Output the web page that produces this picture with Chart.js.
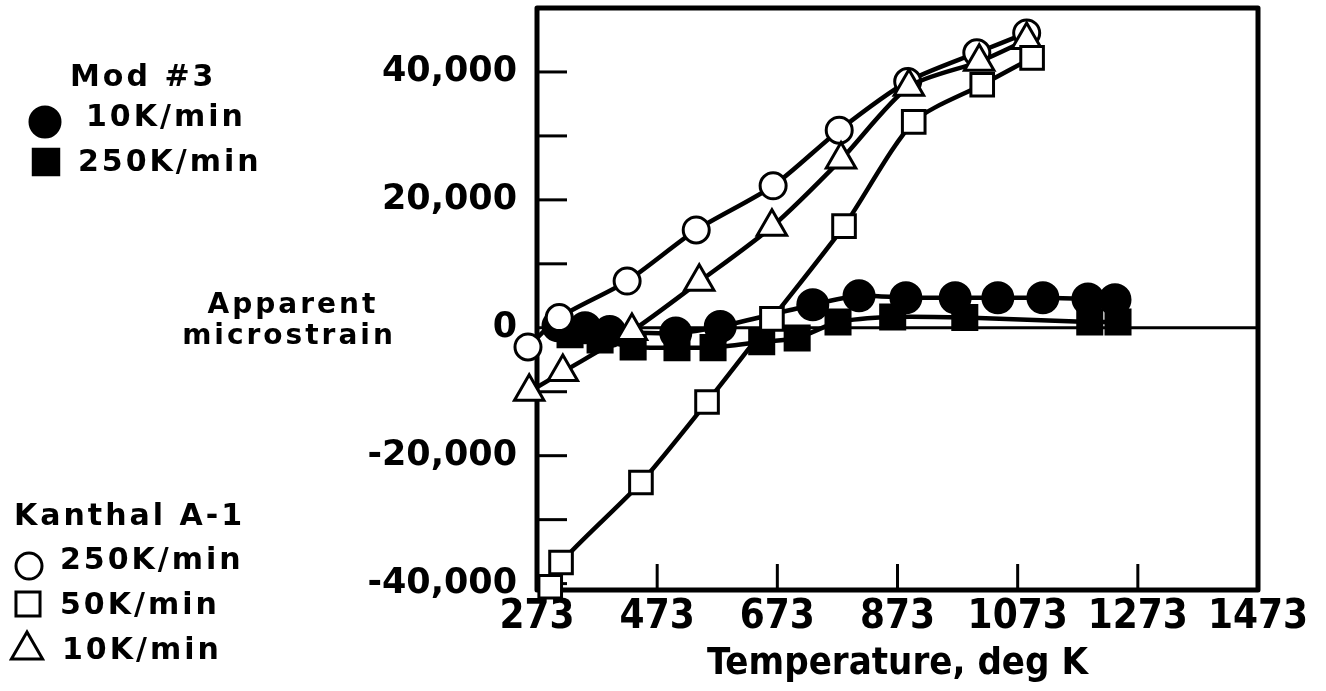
<!DOCTYPE html>
<html>
<head>
<meta charset="utf-8">
<script src="https://cdn.jsdelivr.net/npm/chart.js@4.4.1/dist/chart.umd.min.js"></script>
<style>
  html, body { margin: 0; padding: 0; background: #fff; }
  canvas { display: block; }
</style>
</head>
<body>
<canvas id="grafico" width="1326" height="691"></canvas>
<script>
// Kanthal A-1 (simboli vuoti)
var kCerchioT = [258, 310, 423, 538, 666, 776, 890, 1005, 1088];
var kCerchioS = [-3000, 1600, 7300, 15300, 22200, 30900, 38500, 43000, 46100];
var kQuadT = [295, 313, 446, 556, 664, 784, 900, 1014, 1097];
var kQuadS = [-40500, -36700, -24200, -11600, 1400, 15900, 32200, 38000, 42200];
var kTriT = [260, 316, 431, 543, 664, 779, 892, 1009, 1088];
var kTriS = [-10000, -6900, -500, 7200, 15800, 26300, 37700, 41600, 45000];

// Mod #3 (simboli pieni)
var mCerchioT = [308, 353, 394, 504, 578, 732, 809, 887, 969, 1040, 1115, 1190, 1235];
var mCerchioS = [300, 0, -600, -800, 200, 3600, 5000, 4700, 4700, 4700, 4700, 4500, 4400];
var mQuadT = [328, 378, 433, 506, 566, 647, 706, 774, 865, 985, 1193, 1240];
var mQuadS = [-1100, -1900, -3000, -3100, -3100, -2200, -1600, 900, 1700, 1600, 900, 900];

var xTicks = [273, 473, 673, 873, 1073, 1273, 1473];
var yTicks = [-40000, -30000, -20000, -10000, 0, 10000, 20000, 30000, 40000];
var yLabelStep = 20000;

var gruppoMod = 'Mod #3';
var gruppoKanthal = 'Kanthal A-1';
var etichette = ['10K/min', '250K/min', '250K/min', '50K/min', '10K/min'];

var fontLarga = "'DejaVu Sans', Verdana, sans-serif";
var fontStretta = "'Liberation Sans Narrow', 'DejaVu Sans Condensed', 'Liberation Sans', sans-serif";

function punti(xs, ys) {
  var out = [];
  for (var i = 0; i < xs.length; i++) out.push({x: xs[i], y: ys[i]});
  return out;
}

function formatta(v) {
  var s = Math.abs(v).toString().replace(/\B(?=(\d{3})+(?!\d))/g, ',');
  return (v < 0 ? '-' : '') + s;
}

function serie(label, xs, ys, stile, pieno, raggio, ordine) {
  return {
    label: label,
    data: punti(xs, ys),
    showLine: true,
    borderColor: '#000',
    borderWidth: 4.5,
    tension: 0.25,
    pointStyle: stile,
    pointRadius: raggio,
    pointHoverRadius: raggio,
    pointBorderWidth: 3,
    pointBorderColor: '#000',
    pointBackgroundColor: pieno ? '#000' : '#fff',
    clip: false,
    order: ordine
  };
}

// frame, zero line and inward ticks
var cornice = {
  id: 'cornice',
  beforeDatasetsDraw: function(chart) {
    var ctx = chart.ctx, a = chart.chartArea;
    var sx = chart.scales.x, sy = chart.scales.y;
    ctx.save();
    ctx.strokeStyle = '#000';
    ctx.lineWidth = 3;
    var y0 = sy.getPixelForValue(0);
    ctx.beginPath(); ctx.moveTo(a.left, y0); ctx.lineTo(a.right, y0); ctx.stroke();
    yTicks.forEach(function(v) {
      if (v === 0) return;
      var py = sy.getPixelForValue(v);
      ctx.beginPath(); ctx.moveTo(a.left, py); ctx.lineTo(a.left + 30, py); ctx.stroke();
    });
    xTicks.slice(1, -1).forEach(function(v) {
      var px = sx.getPixelForValue(v);
      ctx.beginPath(); ctx.moveTo(px, a.bottom); ctx.lineTo(px, a.bottom - 26); ctx.stroke();
    });
    ctx.lineWidth = 5;
    ctx.lineJoin = 'round';
    ctx.strokeRect(a.left, a.top, a.right - a.left, a.bottom - a.top);
    ctx.restore();
  }
};

// legends on the left and the horizontal y title
var legende = {
  id: 'legende',
  afterDraw: function(chart) {
    var ctx = chart.ctx;
    var sy = chart.scales.y;
    ctx.save();
    ctx.fillStyle = '#000';
    ctx.strokeStyle = '#000';
    ctx.textBaseline = 'middle';
    if ('letterSpacing' in ctx) ctx.letterSpacing = '3px';

    ctx.font = 'bold 28px ' + fontLarga;
    ctx.textAlign = 'center';
    var yz = sy.getPixelForValue(0);
    ctx.fillText('Apparent', 293, yz - 22);
    ctx.fillText('microstrain', 289, yz + 9);

    ctx.textAlign = 'left';
    ctx.font = 'bold 30px ' + fontLarga;
    ctx.fillText(gruppoMod, 70, 78);
    ctx.fillText(gruppoKanthal, 14, 517);

    var voci = [
      {stile: 'circle', pieno: true, r: 15, x: 45, y: 122, tx: 86, ty: 118},
      {stile: 'rect', pieno: true, r: 18, x: 46, y: 162, tx: 78, ty: 163},
      {stile: 'circle', pieno: false, r: 13, x: 29, y: 566, tx: 60, ty: 561},
      {stile: 'rect', pieno: false, r: 17, x: 28, y: 604, tx: 60, ty: 606},
      {stile: 'triangle', pieno: false, r: 18, x: 27, y: 650, tx: 62, ty: 651}
    ];
    voci.forEach(function(v, i) {
      ctx.save();
      ctx.lineWidth = 3;
      ctx.fillStyle = v.pieno ? '#000' : '#fff';
      Chart.helpers.drawPoint(ctx, {pointStyle: v.stile, radius: v.r, rotation: 0, borderWidth: 3}, v.x, v.y);
      ctx.restore();
      ctx.fillText(etichette[i], v.tx, v.ty);
    });
    ctx.restore();
  }
};

var ctx = document.getElementById('grafico');
var grafico = new Chart(ctx, {
  type: 'scatter',
  data: {
    datasets: [
      serie(etichette[3], kQuadT, kQuadS, 'rect', false, 16, 1),
      serie(etichette[4], kTriT, kTriS, 'triangle', false, 17, 2),
      serie(etichette[2], kCerchioT, kCerchioS, 'circle', false, 13, 3),
      serie(etichette[0], mCerchioT, mCerchioS, 'circle', true, 15, 4),
      serie(etichette[1], mQuadT, mQuadS, 'rect', true, 17, 5)
    ]
  },
  options: {
    responsive: false,
    animation: false,
    layout: { autoPadding: false, padding: { top: 8, right: 68, left: 0, bottom: 0 } },
    plugins: {
      legend: { display: false },
      tooltip: { enabled: false }
    },
    scales: {
      x: {
        type: 'linear',
        min: 273,
        max: 1473,
        grid: { display: false, drawTicks: false },
        border: { display: false },
        afterBuildTicks: function(s) { s.ticks = xTicks.map(function(v) { return {value: v}; }); },
        afterFit: function(s) { s.height = 101; s.paddingLeft = 0; s.paddingRight = 0; },
        ticks: {
          color: '#000',
          padding: 4,
          maxRotation: 0,
          autoSkip: false,
          font: { family: fontStretta, size: 40, weight: 'bold' },
          callback: function(v) { return String(v); }
        },
        title: {
          display: true,
          text: 'Temperature, deg K',
          color: '#000',
          font: { family: fontStretta, size: 38, weight: 'bold', lineHeight: 1.2 },
          padding: { top: 0, bottom: 4 }
        }
      },
      y: {
        type: 'linear',
        min: -41000,
        max: 50000,
        grid: { display: false, drawTicks: false },
        border: { display: false },
        afterBuildTicks: function(s) { s.ticks = yTicks.map(function(v) { return {value: v}; }); },
        afterFit: function(s) { s.width = 537; s.paddingTop = 0; s.paddingBottom = 0; },
        ticks: {
          color: '#000',
          padding: 20,
          autoSkip: false,
          font: { family: fontLarga, size: 35, weight: 'bold' },
          callback: function(v) { return v % yLabelStep === 0 ? formatta(v) : ''; }
        }
      }
    }
  },
  plugins: [cornice, legende]
});
</script>
</body>
</html>
